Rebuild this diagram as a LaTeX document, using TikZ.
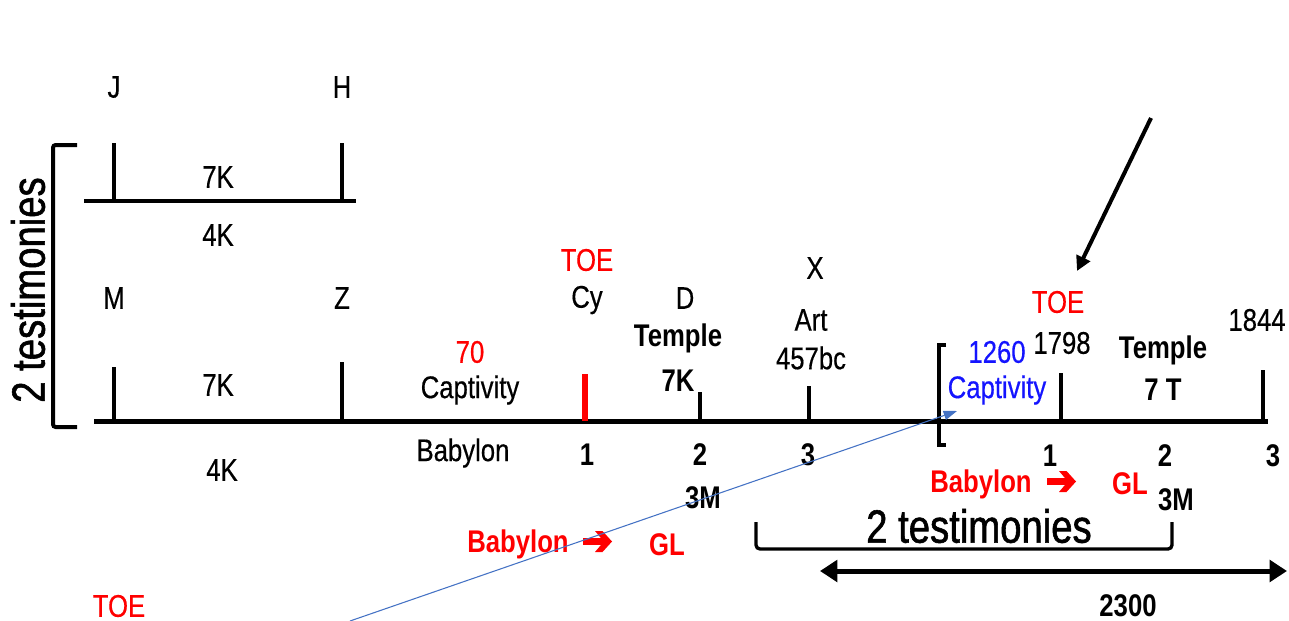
\documentclass[tikz,border=0pt]{standalone}
\usepackage{fontspec}
\setmainfont{Liberation Sans}[FakeStretch=0.82, UprightFeatures={FakeBold=0.4}]
\newfontfamily\bigfont{Liberation Sans}[FakeStretch=0.82, FakeBold=1.2]
\usetikzlibrary{arrows.meta}
\definecolor{toered}{RGB}{255,0,0}
\definecolor{capblue}{RGB}{20,20,255}
\definecolor{lineblue}{RGB}{68,114,196}
\tikzset{
  lbl/.style={inner sep=0pt, font=\fontsize{23.5}{27}\selectfont},
  blbl/.style={lbl, font=\fontsize{23.5}{27}\selectfont\bfseries},
  big/.style={inner sep=0pt, font=\fontsize{35}{40}\selectfont\bigfont},
  redl/.style={lbl, text=toered},
  redb/.style={blbl, text=toered},
  tickline/.style={line width=3pt},
  axis/.style={line width=3.75pt},
  redarr/.pic={\fill[toered] (-29,-3.4) -- (-11,-3.4) -- (-17,-10.5) -- (-9.5,-10.5) -- (0,0) -- (-9.5,10.5) -- (-17,10.5) -- (-11,3.4) -- (-29,3.4) -- cycle;}
}
\begin{document}
\begin{tikzpicture}[x=0.75pt,y=-0.75pt]
\useasboundingbox (0,0) rectangle (1289,621);

% ---- top small timeline ----
\coordinate (tl) at (84,201);
\coordinate (tr) at (356,201);
\draw[line width=3pt] (tl) -- (tr);
\coordinate (jtop) at (114,143); \coordinate (jbot) at (114,201);
\coordinate (htop) at (342,143); \coordinate (hbot) at (342,201);
\draw[tickline] (jtop) -- (jbot);
\draw[tickline] (htop) -- (hbot);
\node[lbl] (J) at (114,87) {J};
\node[lbl] (H) at (342,87) {H};
\node[lbl] (k7a) at (218,177) {7K};
\node[lbl] (k4a) at (218,235) {4K};

% ---- left bracket ----
\coordinate (lb1) at (77,145);
\coordinate (lb2) at (53,145);
\coordinate (lb3) at (53,427);
\coordinate (lb4) at (77,427);
\draw[line width=3pt, rounded corners=2pt] (lb1) -- (lb2) -- (lb3) -- (lb4);
\node[big, rotate=90] (testl) at (28,290) {2 testimonies};

% ---- main timeline ----
\coordinate (ml) at (94,421);
\coordinate (mr) at (1268,421);
\draw[axis] (ml) -- (mr);

\coordinate (mtop) at (114,367); \coordinate (mbot) at (114,421);
\coordinate (ztop) at (342,362); \coordinate (zbot) at (342,421);
\coordinate (cytop) at (585,374); \coordinate (cybot) at (585,421);
\coordinate (dtop) at (700,392); \coordinate (dbot) at (700,421);
\coordinate (xtop) at (809,386); \coordinate (xbot) at (809,421);
\coordinate (s1top) at (1061,373); \coordinate (s1bot) at (1061,421);
\coordinate (s2top) at (1263,370); \coordinate (s2bot) at (1263,421);
\draw[tickline] (mtop) -- (mbot);
\draw[tickline] (ztop) -- (zbot);
\draw[line width=4.5pt, toered] (cytop) -- (cybot);
\draw[tickline] (dtop) -- (dbot);
\draw[tickline] (xtop) -- (xbot);
\draw[tickline] (s1top) -- (s1bot);
\draw[tickline] (s2top) -- (s2bot);

% bracket [ on timeline
\coordinate (bk1) at (946,345);
\coordinate (bk2) at (939,345);
\coordinate (bk3) at (939,445);
\coordinate (bk4) at (946,445);
\draw[line width=3pt] (bk1) -- (bk2) -- (bk3) -- (bk4);

% labels left part
\node[lbl] (M) at (114,298) {M};
\node[lbl] (Z) at (342,298) {Z};
\node[lbl] (k7b) at (218,385) {7K};
\node[lbl] (k4b) at (222,470) {4K};

\node[redl] (n70) at (470,352) {70};
\node[lbl] (capt) at (470,390) {Captivity};
\node[lbl] (bab) at (463,453) {Babylon};

\node[redl] (toe1) at (587,260) {TOE};
\node[lbl] (cy) at (587,300) {Cy};
\node[blbl] (one1) at (587,455) {1};

\node[lbl] (D) at (685,298) {D};
\node[blbl] (temple1) at (678,338) {Temple};
\node[blbl] (k7c) at (678,381) {7K};
\node[blbl] (two1) at (700,455) {2};
\node[blbl] (m3a) at (703,498) {3M};

\node[lbl] (X) at (815,268) {X};
\node[lbl] (art) at (811,320) {Art};
\node[lbl] (bc) at (811,358) {457bc};
\node[blbl] (three1) at (808,455) {3};

% right part
\node[lbl, text=capblue] (n1260) at (997,352) {1260};
\node[lbl, text=capblue] (capt2) at (997,390) {Captivity};
\node[redl] (toe2) at (1058,302) {TOE};
\node[lbl] (y1798) at (1062,343) {1798};
\node[blbl] (one2) at (1050,456) {1};
\node[blbl] (temple2) at (1163,350) {Temple};
\node[blbl] (t7) at (1163,390) {7 T};
\node[lbl] (y1844) at (1257,320) {1844};
\node[blbl] (two2) at (1165,456) {2};
\node[blbl] (three2) at (1273,456) {3};

\node[redb] (bab2) at (981,484) {Babylon};
\pic at (1076,481.5) {redarr};
\node[redb] (gl2) at (1130,484) {GL};
\node[blbl] (m3b) at (1176,500) {3M};

\node[big] (test2) at (979,526) {2 testimonies};
\coordinate (ub1) at (756,522);
\coordinate (ub2) at (756,549);
\coordinate (ub3) at (1172,549);
\coordinate (ub4) at (1172,522);
\draw[line width=2.5pt, rounded corners=3pt] (ub1) -- (ub2) -- (ub3) -- (ub4);

\node[redb] (bab1) at (518,544) {Babylon};
\pic at (612,541.5) {redarr};
\node[redb] (gl1) at (667,545) {GL};

% 2300 double arrow
\coordinate (dl) at (820,571);
\coordinate (dr) at (1287,571);
\draw[axis, {Triangle[length=13pt,width=16pt]}-{Triangle[length=13pt,width=16pt]}] (dl) -- (dr);
\node[blbl] (n2300) at (1128,606) {2300};

\node[redl] (toe3) at (119,606) {TOE};

% black pointer arrow
\coordinate (pa) at (1151,118);
\coordinate (pb) at (1077,271);
\draw[line width=3pt, -{Triangle[length=11pt,width=11pt]}] (pa) -- (pb);

% blue thin arrow
\coordinate (ba) at (350,621);
\coordinate (bb) at (957,411);
\draw[lineblue, line width=0.8pt, -{Triangle[length=10pt,width=7pt]}] (ba) -- (bb);
\end{tikzpicture}
\end{document}
